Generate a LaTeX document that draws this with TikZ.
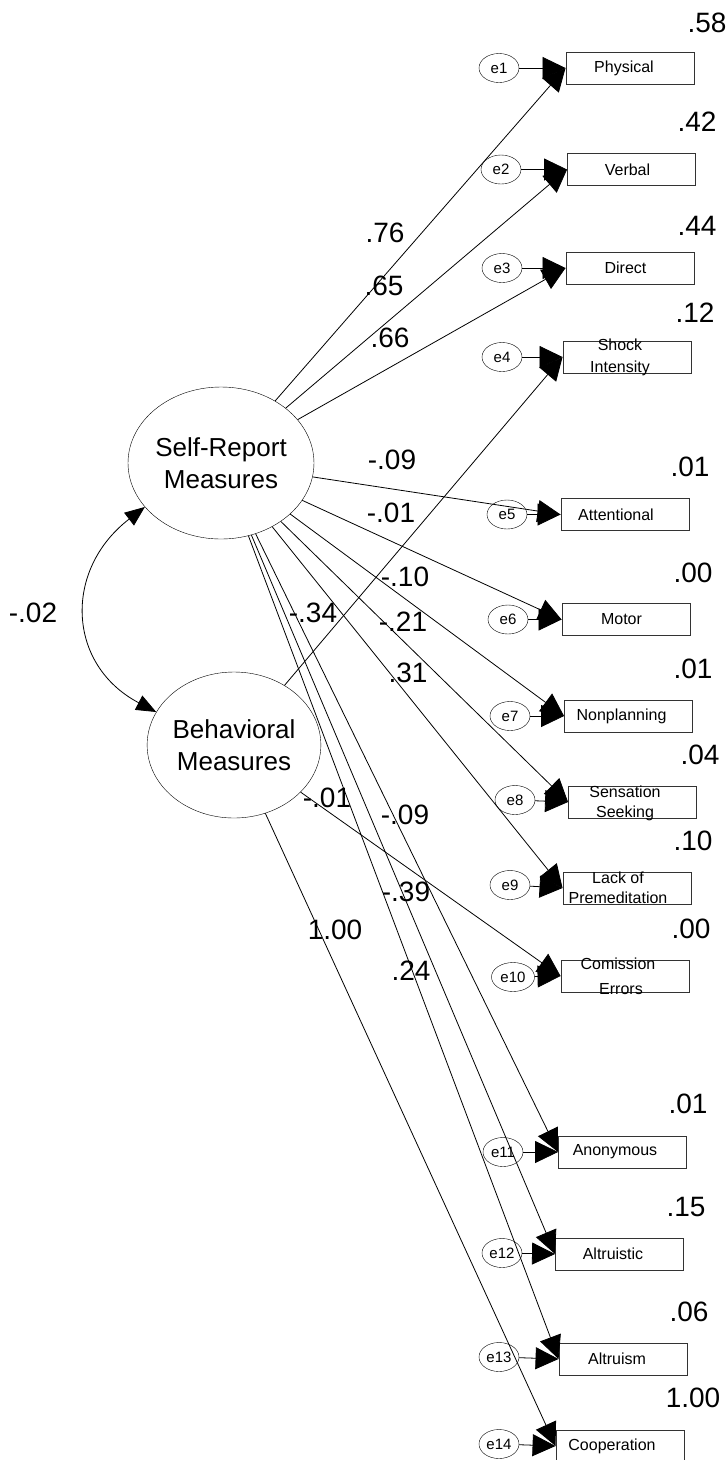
\documentclass[tikz,border=0pt]{standalone}
\usepackage{fontspec}
\setmainfont{Liberation Sans}
\usetikzlibrary{shapes.geometric,arrows.meta}
\begin{document}
\begin{tikzpicture}[x=1pt,y=-1pt,
  lat/.style={draw, ellipse, minimum width=166pt, minimum height=152pt, inner sep=0pt, align=center, font=\fontsize{26}{32}\selectfont},
  err/.style={draw, ellipse, minimum width=40pt, minimum height=29pt, inner sep=0pt, font=\fontsize{15}{18}\selectfont},
  obs/.style={draw, rectangle, minimum width=128pt, minimum height=32pt, inner sep=0pt, line width=0.9pt, draw=black!80},
  btxt/.style={align=center, font=\fontsize{16}{20}\selectfont, inner sep=0pt},
  num/.style={font=\fontsize{28}{32}\selectfont, inner sep=0pt},
  load/.style={line width=0.8pt, -{Triangle[length=23pt,width=22pt]}},
  cov/.style={line width=0.8pt, {Triangle[length=20pt,width=16pt]}-{Triangle[length=20pt,width=16pt]}}
]
\useasboundingbox (0,0) rectangle (727,1460);

% latent variables
\node[lat] (sr) at (221,463) {Self-Report\\Measures};
\node[lat, minimum width=160pt, minimum height=146pt] (bm) at (234,745) {Behavioral\\Measures};

% observed boxes
\node[obs] (phys) at (630,68) {};
\node[obs] (verb) at (631.5,169.5) {};
\node[obs] (dir) at (630,268) {};
\node[obs] (shock) at (627,357) {};
\node[obs] (att) at (625,514.5) {};
\node[obs] (mot) at (626,619.5) {};
\node[obs] (nonp) at (628.5,716) {};
\node[obs] (sens) at (632.5,802) {};
\node[obs] (lack) at (627,888) {};
\node[obs] (comm) at (625,976) {};
\node[obs] (anon) at (622.5,1152) {};
\node[obs] (altc) at (619.5,1254) {};
\node[obs] (altm) at (623,1359) {};
\node[obs] (coop) at (620,1446) {};

% box texts
\node[btxt] (physt) at (624,68) {Physical};
\node[btxt] (verbt) at (627.5,169.5) {Verbal};
\node[btxt] (dirt) at (625.5,268) {Direct};
\node[btxt, font=\fontsize{16}{22}\selectfont] (shockt) at (620,357) {Shock\\Intensity};
\node[btxt] (attt) at (616,514.5) {Attentional};
\node[btxt] (mott) at (621.5,619.5) {Motor};
\node[btxt] (nonpt) at (621.5,716) {Nonplanning};
\node[btxt] (senst) at (625,803) {Sensation\\Seeking};
\node[btxt] (lackt) at (618,888) {Lack of\\Premeditation};
\node[btxt, font=\fontsize{16}{25}\selectfont] (commt) at (618,976) {Comission\\\hspace*{6pt}Errors};
\node[btxt] (anont) at (615,1152) {Anonymous};
\node[btxt] (altct) at (613,1254) {Altruistic};
\node[btxt] (altmt) at (617,1359) {Altruism};
\node[btxt] (coopt) at (612,1446) {Cooperation};

% error terms
\node[err] (e1) at (499,68) {e1};
\node[err] (e2) at (501,169.5) {e2};
\node[err] (e3) at (502,268) {e3};
\node[err] (e4) at (502,357) {e4};
\node[err] (e5) at (507,514.5) {e5};
\node[err] (e6) at (508,619.5) {e6};
\node[err] (e7) at (510,716) {e7};
\node[err] (e8) at (515,800) {e8};
\node[err] (e9) at (510,885) {e9};
\node[err, minimum width=43pt] (e10) at (513,977) {e10};
\node[err] (e11) at (503,1152) {e11};
\node[err] (e12) at (502,1253) {e12};
\node[err] (e13) at (499,1357) {e13};
\node[err] (e14) at (499,1444) {e14};

% error arrows
\foreach \e/\b in {e1/phys,e2/verb,e3/dir,e4/shock,e5/att,e6/mot,e7/nonp,e8/sens,e9/lack,e10/comm,e11/anon,e12/altc,e13/altm,e14/coop}
  \draw[load] (\e) -- (\b.west);

% loadings
\foreach \b in {phys,verb,dir,att,mot,nonp,sens,lack,anon,altc,altm}
  \draw[load] (sr) -- (\b.west);
\foreach \b in {shock,comm,coop}
  \draw[load] (bm) -- (\b.west);

% covariance
\draw[cov] (sr.210) .. controls (63,570) and (67,665) .. (bm.157);

% loading labels
\node[num] (l1) at (385,233) {.76};
\node[num] (l2) at (384,286) {.65};
\node[num] (l3) at (390,338) {.66};
\node[num] (l5) at (392,460) {-.09};
\node[num] (l6) at (391,513) {-.01};
\node[num] (l7) at (405,577) {-.10};
\node[num] (l4) at (313,613) {-.34};
\node[num] (l8) at (403,622) {-.21};
\node[num] (l9) at (408,673) {.31};
\node[num] (l10) at (327,798) {-.01};
\node[num] (l11) at (405,815) {-.09};
\node[num] (l12) at (406,892) {-.39};
\node[num] (l14) at (335,930) {1.00};
\node[num] (l13) at (411,971) {.24};
\node[num] (lc) at (33,613) {-.02};

% squared multiple correlations
\node[num] (r1) at (707,23) {.58};
\node[num] (r2) at (697,122) {.42};
\node[num] (r3) at (697,226) {.44};
\node[num] (r4) at (695,313) {.12};
\node[num] (r5) at (690,467) {.01};
\node[num] (r6) at (693,573) {.00};
\node[num] (r7) at (693,669) {.01};
\node[num] (r8) at (700,755) {.04};
\node[num] (r9) at (693,841) {.10};
\node[num] (r10) at (691,929) {.00};
\node[num] (r11) at (688,1104) {.01};
\node[num] (r12) at (686,1207) {.15};
\node[num] (r13) at (689,1312) {.06};
\node[num] (r14) at (693,1398) {1.00};
\end{tikzpicture}
\end{document}
